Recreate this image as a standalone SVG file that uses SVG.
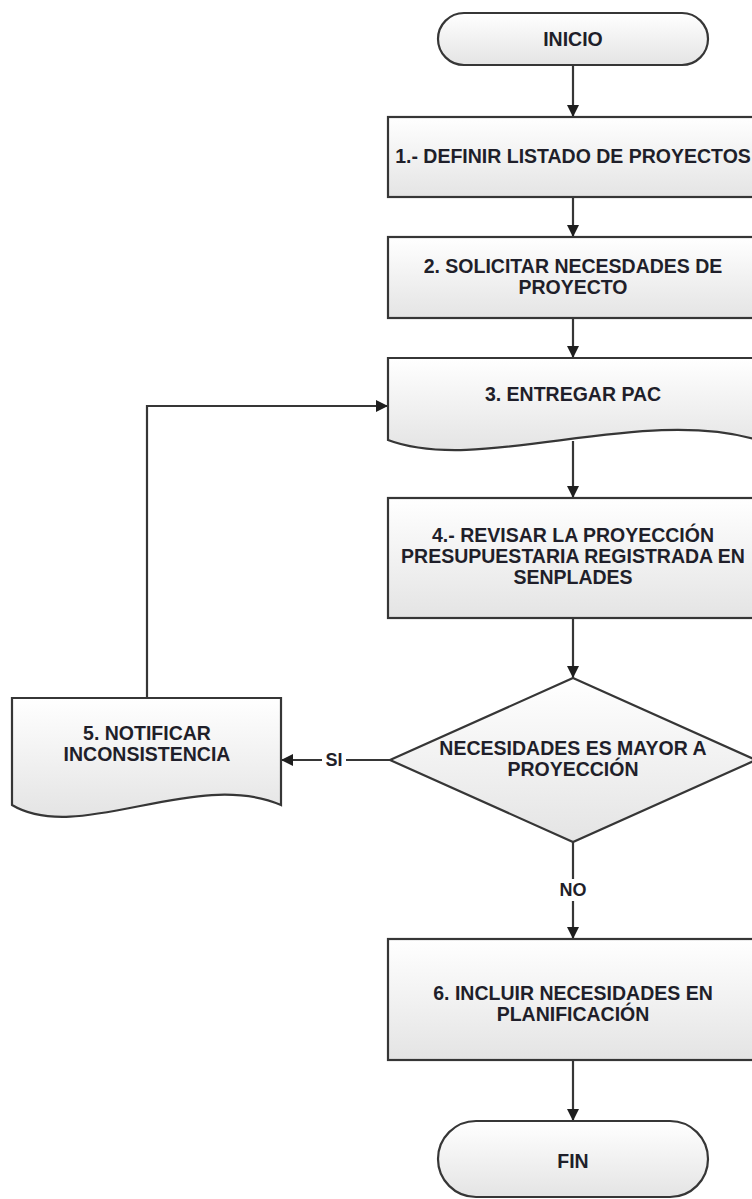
<svg xmlns="http://www.w3.org/2000/svg" width="752" height="1199" viewBox="0 0 752 1199">
  <defs>
    <linearGradient id="fill" x1="0" y1="0" x2="0" y2="1">
      <stop offset="0" stop-color="#ffffff"/>
      <stop offset="1" stop-color="#e4e4e4"/>
    </linearGradient>
    <marker id="arrow" viewBox="0 0 10 10" refX="10" refY="5" markerWidth="12" markerHeight="12" markerUnits="userSpaceOnUse" orient="auto">
      <path d="M0,0 L10,5 L0,10 z" fill="#1e1e1e"/>
    </marker>
  </defs>
  <style>
    .shape { fill: url(#fill); stroke: #363636; stroke-width: 2.2; }
    .label { font-family: "Liberation Sans", Arial, sans-serif; font-weight: bold; font-size: 19.5px; fill: #1f1f2a; text-anchor: middle; dominant-baseline: central; }
    .edge { fill: none; stroke: #363636; stroke-width: 2.2; marker-end: url(#arrow); }
    .edge-label { font-family: "Liberation Sans", Arial, sans-serif; font-weight: bold; font-size: 18px; fill: #1f1f2a; text-anchor: middle; dominant-baseline: central; }
  </style>
  <rect width="752" height="1199" fill="#ffffff"/>

  <!-- connectors -->
  <g id="connectors">
    <path class="edge" d="M573,65 V117"/>
    <path class="edge" d="M573,197 V237"/>
    <path class="edge" d="M573,318 V358"/>
    <path class="edge" d="M573,441 V498"/>
    <path class="edge" d="M573,618 V678"/>
    <path class="edge" d="M390,760 H281"/>
    <path class="edge" d="M147,698 V406 H388"/>
    <path class="edge" d="M573,842 V939"/>
    <path class="edge" d="M573,1060 V1121"/>
    <rect x="322" y="750" width="24" height="20" fill="#ffffff"/>
    <text class="edge-label" x="334" y="760">SI</text>
    <rect x="556" y="879" width="34" height="22" fill="#ffffff"/>
    <text class="edge-label" x="573" y="890">NO</text>
  </g>

  <!-- start -->
  <g id="inicio">
    <rect class="shape" x="438" y="13" width="270" height="52" rx="26" ry="26"/>
    <text class="label" x="573" y="39">INICIO</text>
  </g>

  <!-- step 1 -->
  <g id="paso1">
    <rect class="shape" x="388" y="117" width="370" height="80"/>
    <text class="label" x="573" y="156">1.- DEFINIR LISTADO DE PROYECTOS</text>
  </g>

  <!-- step 2 -->
  <g id="paso2">
    <rect class="shape" x="388" y="237" width="370" height="81"/>
    <text class="label" x="573" y="266">2. SOLICITAR NECESDADES DE</text>
    <text class="label" x="573" y="287">PROYECTO</text>
  </g>

  <!-- step 3: document -->
  <g id="paso3">
    <path class="shape" d="M388,358 H758 V440 C640,405 480,475 388,440 Z"/>
    <text class="label" x="573" y="394">3. ENTREGAR PAC</text>
  </g>

  <!-- step 4 -->
  <g id="paso4">
    <rect class="shape" x="388" y="498" width="370" height="120"/>
    <text class="label" x="573" y="535">4.- REVISAR LA PROYECCIÓN</text>
    <text class="label" x="573" y="556">PRESUPUESTARIA REGISTRADA EN</text>
    <text class="label" x="573" y="577">SENPLADES</text>
  </g>

  <!-- decision -->
  <g id="decision">
    <path class="shape" d="M573,678 L756,760 L573,842 L390,760 Z"/>
    <text class="label" x="573" y="748">NECESIDADES ES MAYOR A</text>
    <text class="label" x="573" y="769">PROYECCIÓN</text>
  </g>

  <!-- step 5: document -->
  <g id="paso5">
    <path class="shape" d="M12,698 H281 V805 C195,768 79,845 12,805 Z"/>
    <text class="label" x="147" y="733">5. NOTIFICAR</text>
    <text class="label" x="147" y="754">INCONSISTENCIA</text>
  </g>

  <!-- step 6 -->
  <g id="paso6">
    <rect class="shape" x="388" y="939" width="370" height="121"/>
    <text class="label" x="573" y="993">6. INCLUIR NECESIDADES EN</text>
    <text class="label" x="573" y="1014">PLANIFICACIÓN</text>
  </g>

  <!-- end -->
  <g id="fin">
    <rect class="shape" x="438" y="1121" width="270" height="76" rx="38" ry="38"/>
    <text class="label" x="573" y="1161">FIN</text>
  </g>
</svg>
